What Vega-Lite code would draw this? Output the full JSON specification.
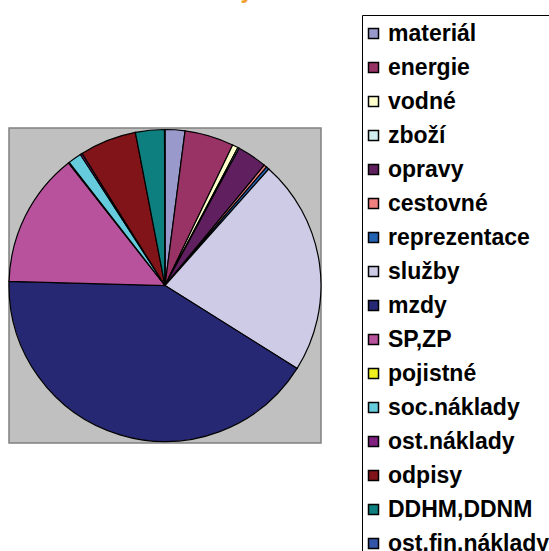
{
  "$schema": "https://vega.github.io/schema/vega-lite/v6.json",
  "autosize": "none",
  "padding": {"left": 9, "top": 128, "right": 228, "bottom": 108},
  "width": 312,
  "height": 315,
  "background": "white",
  "view": {"fill": "#c0c0c0", "stroke": "#808080", "strokeWidth": 1.5},
  "title": {
    "text": "Náklady v roce 2007",
    "color": "#f0a030",
    "font": "Liberation Sans",
    "fontWeight": "bold",
    "fontSize": 23,
    "anchor": "middle",
    "frame": "group",
    "offset": 12,
    "dx": 110
  },
  "data": {
    "values": [
      {"i": 1, "polozka": "materiál", "podil": 2.06},
      {"i": 2, "polozka": "energie", "podil": 5.1},
      {"i": 3, "polozka": "vodné", "podil": 0.6},
      {"i": 4, "polozka": "zboží", "podil": 0.15},
      {"i": 5, "polozka": "opravy", "podil": 3.1},
      {"i": 6, "polozka": "cestovné", "podil": 0.3},
      {"i": 7, "polozka": "reprezentace", "podil": 0.3},
      {"i": 8, "polozka": "služby", "podil": 22.4},
      {"i": 9, "polozka": "mzdy", "podil": 41.6},
      {"i": 10, "polozka": "SP,ZP", "podil": 14.0},
      {"i": 11, "polozka": "pojistné", "podil": 0.1},
      {"i": 12, "polozka": "soc.náklady", "podil": 1.4},
      {"i": 13, "polozka": "ost.náklady", "podil": 0.2},
      {"i": 14, "polozka": "odpisy", "podil": 5.9},
      {"i": 15, "polozka": "DDHM,DDNM", "podil": 3.0},
      {"i": 16, "polozka": "ost.fin.náklady", "podil": 0.05}
    ]
  },
  "mark": {"type": "arc", "stroke": "black", "strokeWidth": 1.2},
  "encoding": {
    "theta": {"field": "podil", "type": "quantitative", "stack": true},
    "order": {"field": "i", "type": "quantitative"},
    "color": {
      "field": "polozka",
      "type": "nominal",
      "scale": {
        "domain": ["materiál", "energie", "vodné", "zboží", "opravy", "cestovné", "reprezentace", "služby", "mzdy", "SP,ZP", "pojistné", "soc.náklady", "ost.náklady", "odpisy", "DDHM,DDNM", "ost.fin.náklady"],
        "range": ["#9999cc", "#993366", "#ffffcc", "#d0eef0", "#602060", "#f08080", "#2262b2", "#cdcbe6", "#262873", "#b8529c", "#f0f020", "#66ccdd", "#802080", "#801418", "#0e7f7f", "#3355aa"]
      },
      "legend": {
        "title": null,
        "orient": "none",
        "legendX": 353,
        "legendY": -113,
        "direction": "vertical",
        "symbolType": "square",
        "symbolSize": 100,
        "symbolOffset": -7,
        "symbolStrokeColor": "black",
        "symbolStrokeWidth": 1.5,
        "labelFont": "Liberation Sans",
        "labelFontWeight": "bold",
        "labelFontSize": 23,
        "labelColor": "black",
        "labelOffset": 3,
        "labelLimit": 300,
        "rowPadding": 10,
        "padding": 7,
        "strokeColor": "black",
        "fillColor": "white"
      }
    }
  }
}
